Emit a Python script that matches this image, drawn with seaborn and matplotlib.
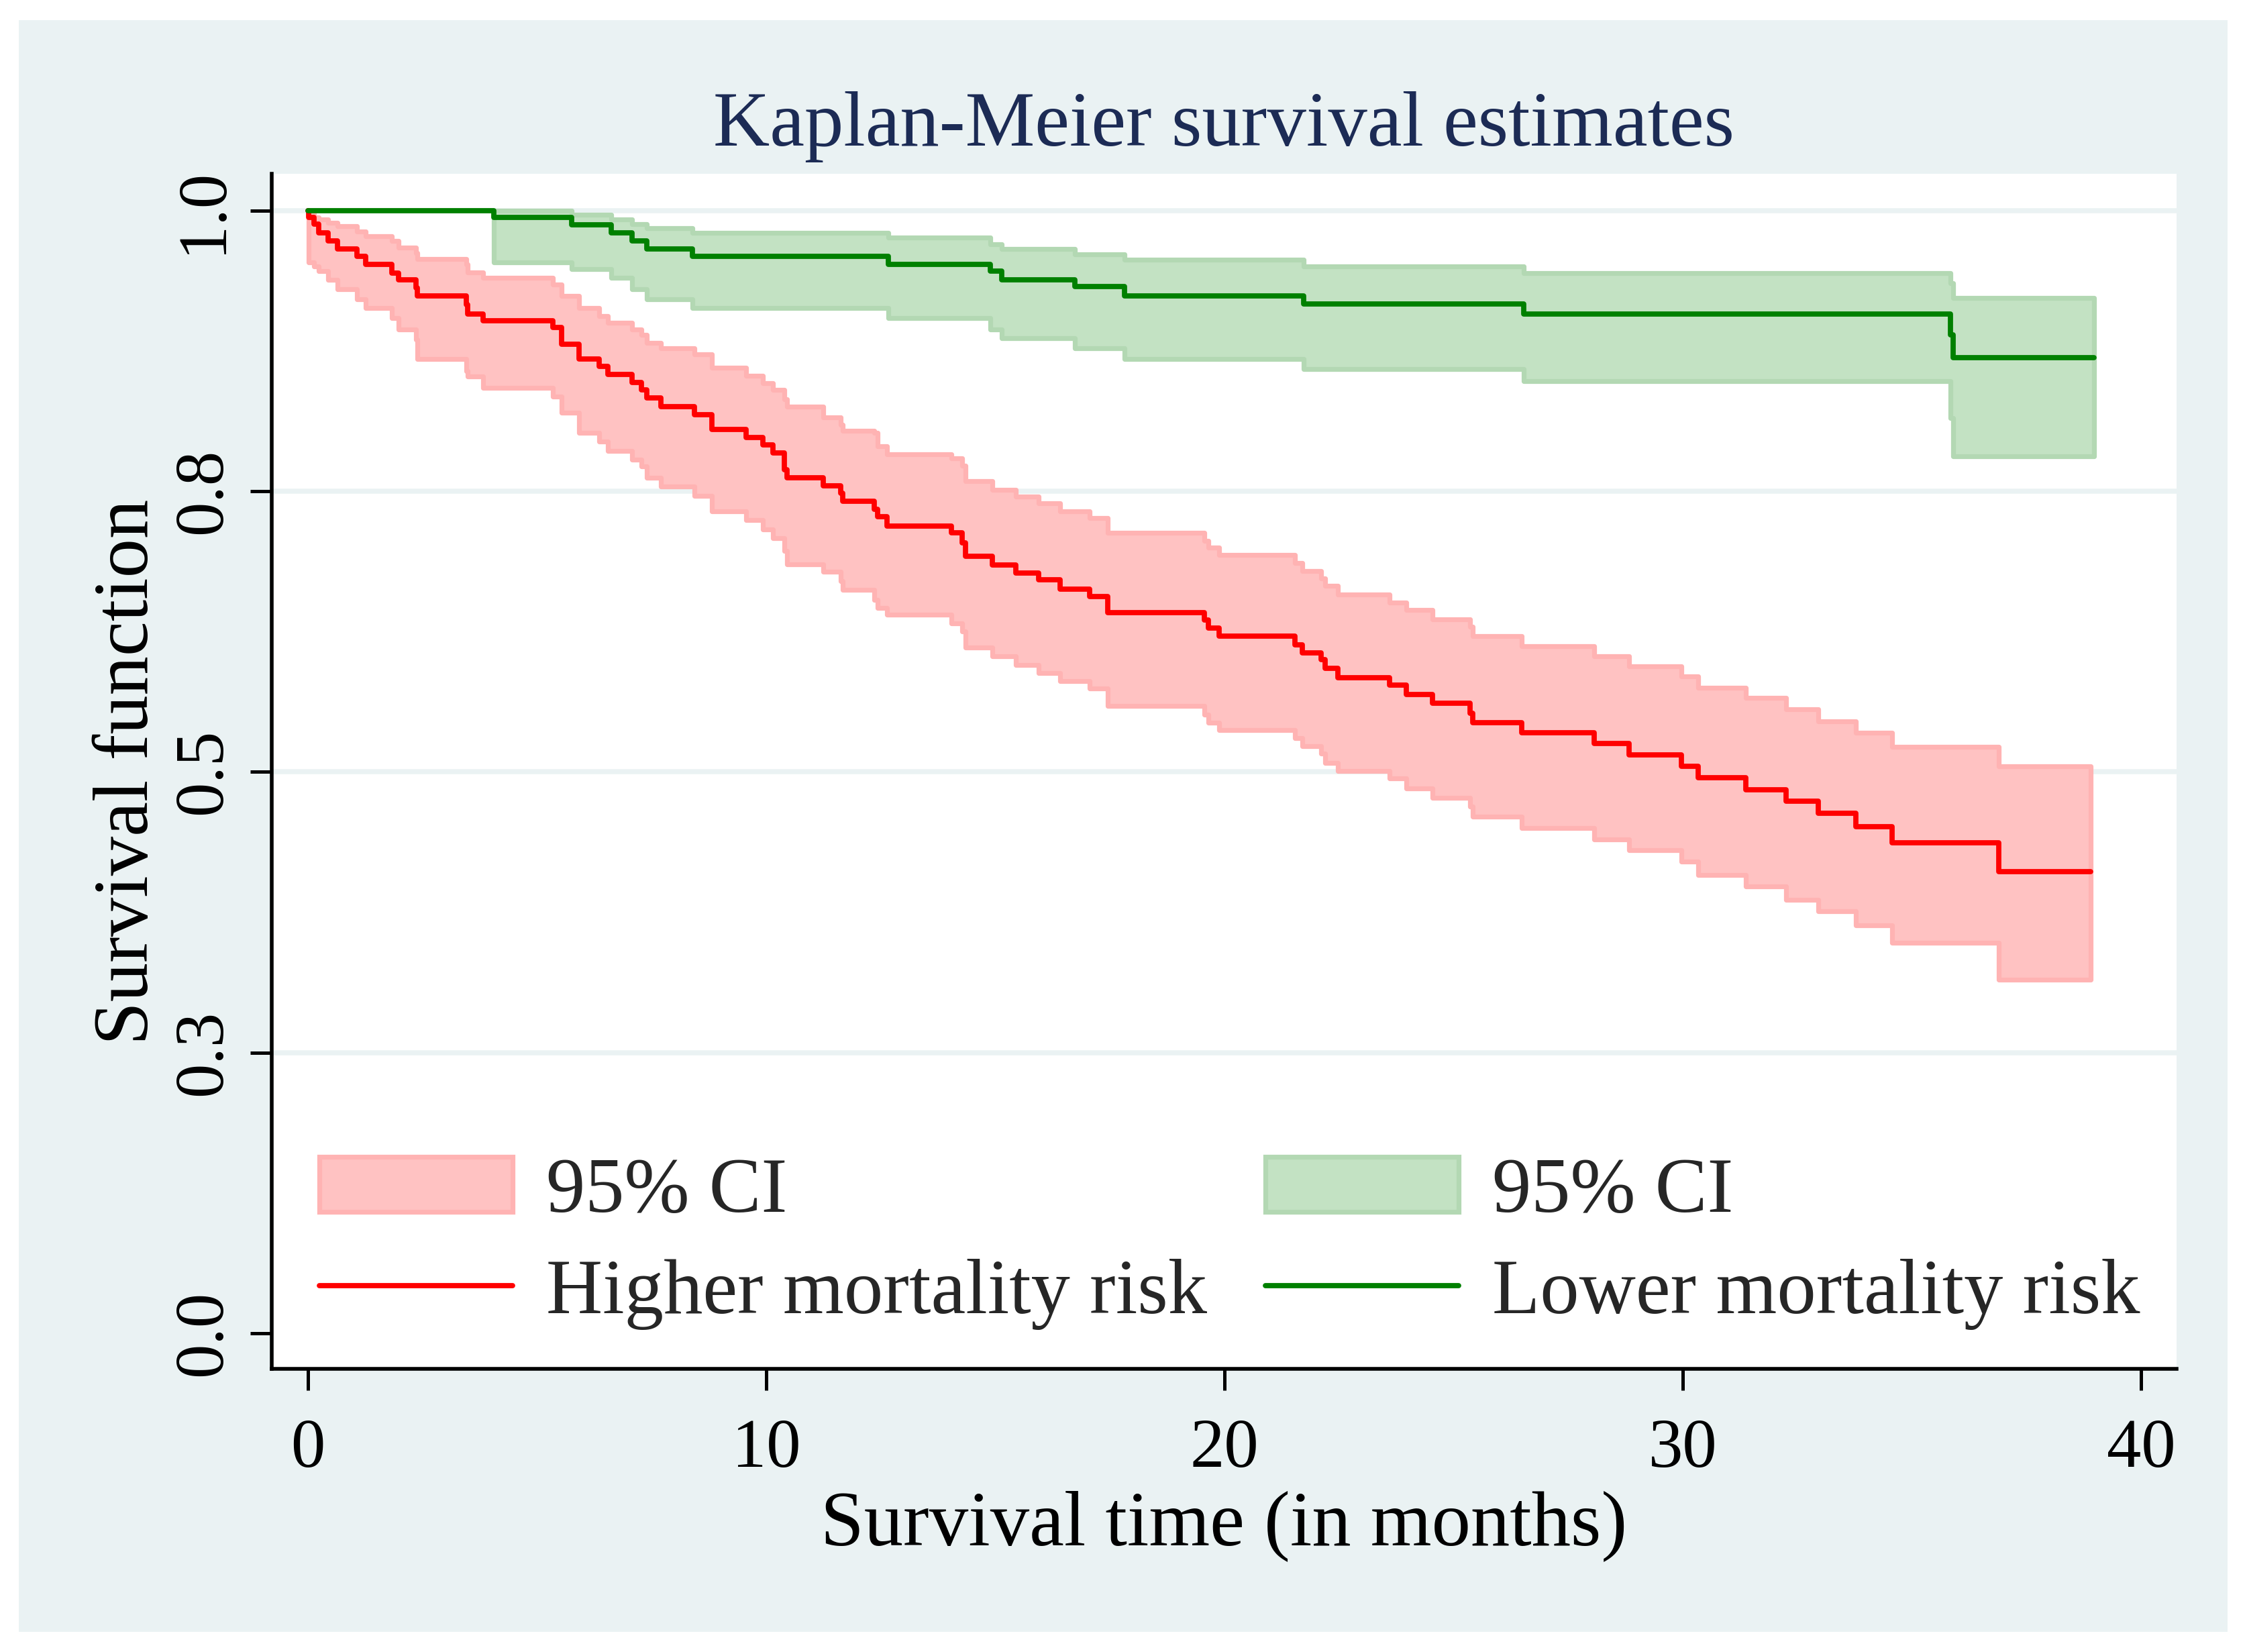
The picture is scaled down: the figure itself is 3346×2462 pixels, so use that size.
import matplotlib
matplotlib.use("Agg")
import matplotlib.pyplot as plt
from matplotlib.patches import Patch, Rectangle
from matplotlib.lines import Line2D
import seaborn as sns
import pandas as pd

# Kaplan-Meier step estimates (time in months)
red_t = [0, 0.02, 0.13, 0.23, 0.44, 0.64, 1.07, 1.26, 1.83, 1.98, 2.36, 2.39, 3.45, 3.49, 3.83,
         5.34, 5.53, 5.91, 6.35, 6.54, 7.08, 7.28, 7.40, 7.70, 8.43, 8.81, 9.56, 9.93, 10.15,
         10.39, 10.45, 11.25, 11.62, 11.67, 12.36, 12.43, 12.64, 14.04, 14.28, 14.35, 14.93,
         15.45, 15.94, 16.41, 17.06, 17.45, 19.56, 19.65, 19.88, 21.53, 21.69, 22.10, 22.20,
         22.47, 23.60, 23.96, 24.54, 25.36, 25.41, 26.49, 28.06, 28.83, 29.97, 30.34, 31.37,
         32.25, 32.95, 33.77, 34.56, 36.89, 38.9]
red_s = [1.0, 0.994, 0.988, 0.980, 0.973, 0.966, 0.959, 0.952, 0.944, 0.938, 0.931, 0.924,
         0.916, 0.908, 0.902, 0.896, 0.881, 0.868, 0.861, 0.854, 0.847, 0.840, 0.833, 0.825,
         0.818, 0.805, 0.798, 0.791, 0.784, 0.769, 0.762, 0.755, 0.748, 0.741, 0.734, 0.727,
         0.719, 0.713, 0.704, 0.692, 0.684, 0.677, 0.671, 0.663, 0.656, 0.642, 0.635, 0.628,
         0.621, 0.613, 0.606, 0.600, 0.592, 0.584, 0.577, 0.569, 0.561, 0.552, 0.544, 0.535,
         0.525, 0.515, 0.505, 0.495, 0.484, 0.474, 0.463, 0.451, 0.437, 0.411, 0.411]
# 95% CI, starting at the first failure
red_lo = [0.954, 0.950, 0.946, 0.938, 0.930, 0.921, 0.913, 0.904, 0.894, 0.885, 0.868, 0.857,
          0.852, 0.842, 0.834, 0.820, 0.802, 0.794, 0.786, 0.778, 0.772, 0.762, 0.754, 0.746,
          0.732, 0.724, 0.716, 0.708, 0.697, 0.685, 0.678, 0.670, 0.662, 0.653, 0.646, 0.640,
          0.632, 0.625, 0.611, 0.603, 0.595, 0.588, 0.581, 0.574, 0.559, 0.551, 0.544, 0.537,
          0.530, 0.523, 0.516, 0.508, 0.501, 0.494, 0.485, 0.477, 0.469, 0.460, 0.450, 0.440,
          0.430, 0.420, 0.408, 0.398, 0.386, 0.376, 0.363, 0.348, 0.315, 0.315]
red_hi = [0.998, 0.994, 0.992, 0.989, 0.986, 0.981, 0.977, 0.973, 0.967, 0.962, 0.957, 0.952,
          0.945, 0.940, 0.934, 0.924, 0.913, 0.906, 0.900, 0.894, 0.889, 0.882, 0.877, 0.872,
          0.860, 0.853, 0.846, 0.840, 0.832, 0.825, 0.816, 0.809, 0.804, 0.802, 0.790, 0.783,
          0.779, 0.773, 0.759, 0.751, 0.745, 0.739, 0.732, 0.726, 0.713, 0.706, 0.700, 0.693,
          0.686, 0.679, 0.672, 0.666, 0.658, 0.651, 0.644, 0.636, 0.629, 0.621, 0.612, 0.603,
          0.594, 0.585, 0.575, 0.566, 0.556, 0.545, 0.535, 0.522, 0.505, 0.505]

green_t = [0, 4.06, 5.76, 6.62, 7.08, 7.40, 8.39, 12.66, 14.89, 15.14, 16.74, 17.82, 21.72,
           26.52, 35.83, 35.89, 38.97]
green_s = [1.0, 0.994, 0.987, 0.980, 0.973, 0.966, 0.959, 0.952, 0.946, 0.938, 0.932, 0.924,
           0.917, 0.908, 0.889, 0.869, 0.869]
green_lo = [0.954, 0.948, 0.940, 0.930, 0.921, 0.913, 0.904, 0.894, 0.886, 0.877, 0.868,
            0.859, 0.848, 0.815, 0.781, 0.781]
green_hi = [1.000, 0.996, 0.992, 0.988, 0.984, 0.980, 0.976, 0.970, 0.966, 0.961, 0.956,
            0.950, 0.944, 0.935, 0.922, 0.922]

groups = ["Higher mortality risk", "Lower mortality risk"]
x_ticks = [0, 10, 20, 30, 40]
y_ticks = [0, 0.25, 0.5, 0.75, 1.0]
y_labels = ["0.0", "0.3", "0.5", "0.8", "1.0"]

sns.set_style("white")
plt.rcParams["font.family"] = ["Liberation Serif", "DejaVu Serif"]

W, H = 3346, 2462
fig = plt.figure(figsize=(W / 200, H / 200), dpi=200, facecolor="white")
fig.add_artist(Rectangle((28 / W, 1 - 2432 / H), (3320 - 28) / W, (2432 - 30) / H,
                         transform=fig.transFigure, facecolor="#EAF2F3", edgecolor="none",
                         zorder=-1))
ax = fig.add_axes([405 / W, 1 - 2040 / H, (3244 - 405) / W, (2040 - 259) / H])
ax.set_facecolor("white")

ax.fill_between(red_t[1:], red_lo, red_hi, step="post", facecolor="#FFC2C2",
                edgecolor="#FFB3B3", lw=2.6, zorder=1)
ax.fill_between(green_t[1:], green_lo, green_hi, step="post", facecolor="#C3E2C3",
                edgecolor="#B3D8B3", lw=2.6, zorder=1)

df = pd.concat([
    pd.DataFrame({"time": red_t, "surv": red_s, "group": groups[0]}),
    pd.DataFrame({"time": green_t, "surv": green_s, "group": groups[1]}),
])
sns.lineplot(data=df, x="time", y="surv", hue="group",
             palette={groups[0]: "#FF0000", groups[1]: "#008000"},
             drawstyle="steps-post", estimator=None, sort=False, lw=2.8,
             legend=False, ax=ax, zorder=3)

ax.set_xlim(-0.788, 40.77)
ax.set_ylim(-0.0318, 1.0327)
ax.set_xticks(x_ticks)
ax.set_yticks(y_ticks)
ax.set_yticklabels(y_labels, rotation=90, va="center", ha="right")
ax.set_xlabel("")
ax.set_ylabel("")
ax.set_axisbelow(True)
ax.grid(axis="y", color="#EAF2F3", lw=2.7)
ax.grid(axis="x", visible=False)
ax.get_ygridlines()[0].set_visible(False)

for s in ["top", "right"]:
    ax.spines[s].set_visible(False)
for s in ["left", "bottom"]:
    ax.spines[s].set_linewidth(2.0)
    ax.spines[s].set_color("black")
ax.tick_params(axis="both", direction="out", length=11.5, width=1.8, color="black",
               labelsize=37, labelcolor="black")
ax.tick_params(axis="y", pad=7.9, left=True)
ax.tick_params(axis="x", pad=15, bottom=True)

fig.text(1824 / W, 1 - 217 / H, "Kaplan-Meier survival estimates", ha="center",
         va="baseline", fontsize=42, color="#1C2B55")
fig.text(1824 / W, 1 - 2302 / H, "Survival time (in months)", ha="center",
         va="baseline", fontsize=42, color="black")
fig.text(220 / W, 1 - 1150 / H, "Survival function", ha="center", va="baseline",
         rotation=90, rotation_mode="anchor", fontsize=42, color="black")

handles = [
    Patch(facecolor="#FFC2C2", edgecolor="#FFB3B3", lw=2.6),
    Line2D([], [], color="#FF0000", lw=2.8),
    Patch(facecolor="#C3E2C3", edgecolor="#B3D8B3", lw=2.6),
    Line2D([], [], color="#008000", lw=2.8),
]
labels = ["95% CI", groups[0], "95% CI", groups[1]]
ax.legend(handles, labels, ncol=2, loc="upper left",
          bbox_to_anchor=(476 / W, 1 - 1724 / H), bbox_transform=fig.transFigure,
          frameon=False, fontsize=42, handlelength=2.47, handleheight=0.7,
          handletextpad=0.43, columnspacing=0.74, labelspacing=0.38,
          borderpad=0, borderaxespad=0)

fig.savefig("out.png", dpi=200, facecolor="white")
plt.close(fig)
